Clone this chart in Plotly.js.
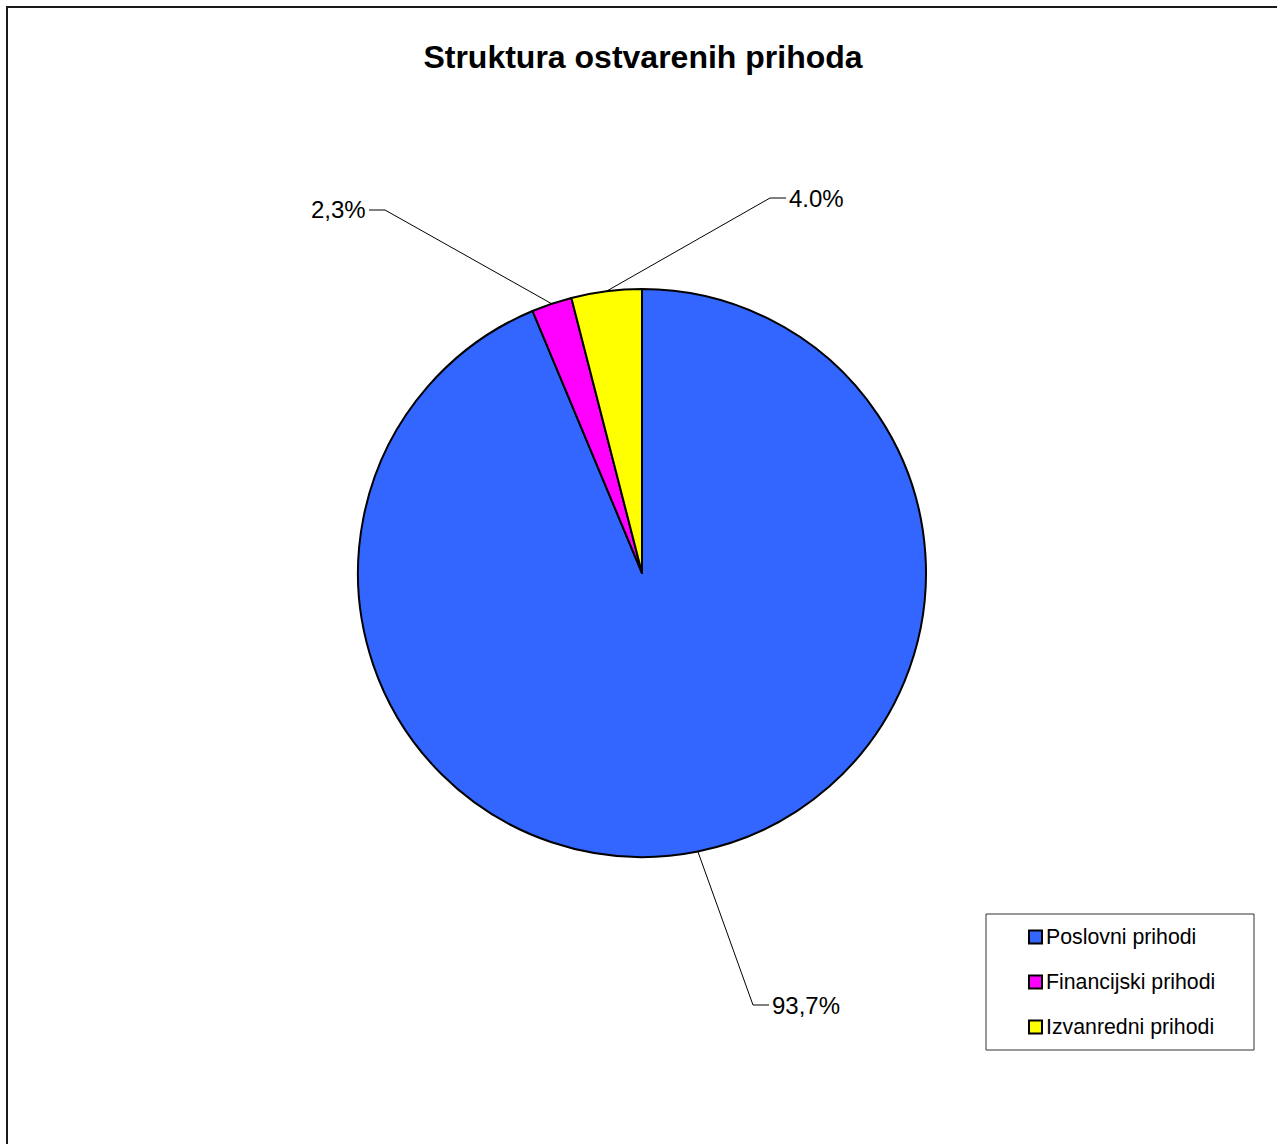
<!DOCTYPE html>
<html>
<head>
<meta charset="utf-8">
<script src="https://cdn.plot.ly/plotly-3.0.1.min.js"></script>
<style>
  html, body { margin: 0; padding: 0; background: #ffffff; }
  #chart { width: 1277px; height: 1144px; }
</style>
</head>
<body>
<div id="chart"></div>
<script>
// Revenue structure
const categories = ['Poslovni prihodi', 'Financijski prihodi', 'Izvanredni prihodi'];
const shares = [93.7, 2.3, 4.0];
const shareLabels = ['93,7%', '2,3%', '4.0%'];
const sliceColors = ['#3366FF', '#FF00FF', '#FFFF00'];

// Page geometry (pixels)
const W = 1277, H = 1144;
const cx = 642, cy = 573, R = 284;

// Label elbow points and text side for each slice label
const labelElbows = [
  { x: 753, y: 1005, side: 'right' },
  { x: 385, y: 210, side: 'left' },
  { x: 770, y: 198, side: 'right' }
];

const px = x => x / W;
const py = y => 1 - y / H;

const FONT = 'Liberation Sans, Arial, sans-serif';

const trace = {
  type: 'pie',
  labels: categories,
  values: shares,
  sort: false,
  direction: 'clockwise',
  rotation: 0,
  textinfo: 'none',
  hoverinfo: 'label+percent',
  marker: { colors: sliceColors, line: { color: '#000000', width: 2 } },
  domain: { x: [px(cx - R), px(cx + R)], y: [py(cy + R), py(cy - R)] },
  showlegend: false
};

const shapes = [];
const annotations = [];

// Outer chart frame (top and left edges)
shapes.push({
  type: 'path', xref: 'paper', yref: 'paper',
  path: `M ${px(7)},${py(H + 20)} L ${px(7)},${py(7)} L ${px(W + 20)},${py(7)}`,
  line: { color: '#1a1a1a', width: 2 }
});

// Leader lines and percentage labels, anchored at each slice's mid-angle
const total = shares.reduce((a, b) => a + b, 0);
let cum = 0;
shares.forEach((v, i) => {
  const mid = (cum + v / 2) / total;
  cum += v;
  const th = mid * 2 * Math.PI;
  const ax = cx + R * Math.sin(th);
  const ay = cy - R * Math.cos(th);
  const e = labelElbows[i];
  const tailX = e.side === 'right' ? e.x + 16 : e.x - 16;
  shapes.push({
    type: 'path', xref: 'paper', yref: 'paper',
    path: `M ${px(ax)},${py(ay)} L ${px(e.x)},${py(e.y)} L ${px(tailX)},${py(e.y)}`,
    line: { color: '#000000', width: 1 }
  });
  annotations.push({
    xref: 'paper', yref: 'paper',
    x: px(e.side === 'right' ? tailX + 1 : tailX - 1), y: py(e.y),
    xanchor: e.side === 'right' ? 'left' : 'right', yanchor: 'middle',
    text: shareLabels[i], showarrow: false,
    font: { family: FONT, size: 24, color: '#000000' }
  });
});

// Legend box with swatches
const lg = { left: 986, top: 914, right: 1254, bottom: 1050 };
shapes.push({
  type: 'rect', xref: 'paper', yref: 'paper',
  x0: px(lg.left), x1: px(lg.right), y0: py(lg.bottom), y1: py(lg.top),
  line: { color: '#333333', width: 1 }, fillcolor: '#ffffff', layer: 'below'
});
categories.forEach((c, i) => {
  const yc = 937 + i * 45;
  shapes.push({
    type: 'rect', xref: 'paper', yref: 'paper',
    x0: px(1029), x1: px(1042), y0: py(yc + 6.5), y1: py(yc - 6.5),
    fillcolor: sliceColors[i], line: { color: '#000000', width: 2 }
  });
  annotations.push({
    xref: 'paper', yref: 'paper', x: px(1044), y: py(yc),
    xanchor: 'left', yanchor: 'middle', text: c, showarrow: false,
    font: { family: FONT, size: 21.3, color: '#000000' }
  });
});

const layout = {
  width: W, height: H,
  margin: { l: 0, r: 0, t: 0, b: 0 },
  paper_bgcolor: '#ffffff',
  title: {
    text: '<b>Struktura ostvarenih prihoda</b>',
    x: px(643), xanchor: 'center',
    y: py(57), yanchor: 'middle',
    font: { family: FONT, size: 32, color: '#000000' }
  },
  showlegend: false,
  shapes: shapes,
  annotations: annotations
};

Plotly.newPlot('chart', [trace], layout, { staticPlot: true });
</script>
</body>
</html>
